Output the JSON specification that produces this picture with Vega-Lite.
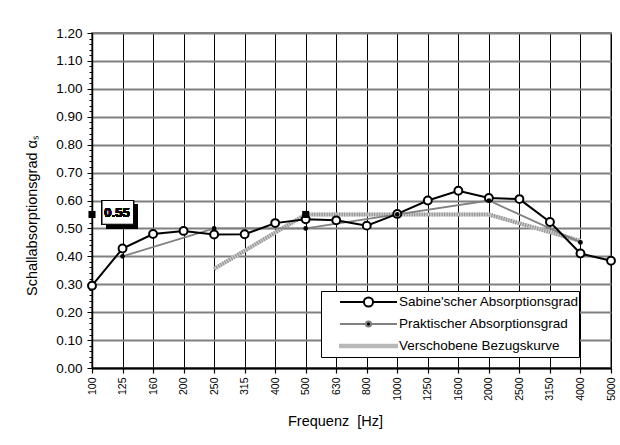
{
  "$schema": "https://vega.github.io/schema/vega-lite/v6.json",
  "autosize": {"type": "none"},
  "padding": {"left": 92, "top": 33, "right": 9, "bottom": 77},
  "width": 519,
  "height": 335,
  "background": "white",
  "config": {
    "font": "Liberation Sans",
    "view": {"stroke": "#808080", "strokeWidth": 2},
    "axis": {"labelFont": "Liberation Sans", "titleFont": "Liberation Sans", "labelColor": "black", "titleColor": "black", "titleFontWeight": "normal"}
  },
  "datasets": {
    "d": [
      {"f": "100", "s": "Sabine'scher Absorptionsgrad", "v": 0.295},
      {"f": "125", "s": "Sabine'scher Absorptionsgrad", "v": 0.428},
      {"f": "160", "s": "Sabine'scher Absorptionsgrad", "v": 0.48},
      {"f": "200", "s": "Sabine'scher Absorptionsgrad", "v": 0.491},
      {"f": "250", "s": "Sabine'scher Absorptionsgrad", "v": 0.478},
      {"f": "315", "s": "Sabine'scher Absorptionsgrad", "v": 0.479},
      {"f": "400", "s": "Sabine'scher Absorptionsgrad", "v": 0.519},
      {"f": "500", "s": "Sabine'scher Absorptionsgrad", "v": 0.533},
      {"f": "630", "s": "Sabine'scher Absorptionsgrad", "v": 0.529},
      {"f": "800", "s": "Sabine'scher Absorptionsgrad", "v": 0.51},
      {"f": "1000", "s": "Sabine'scher Absorptionsgrad", "v": 0.552},
      {"f": "1250", "s": "Sabine'scher Absorptionsgrad", "v": 0.60},
      {"f": "1600", "s": "Sabine'scher Absorptionsgrad", "v": 0.635},
      {"f": "2000", "s": "Sabine'scher Absorptionsgrad", "v": 0.609},
      {"f": "2500", "s": "Sabine'scher Absorptionsgrad", "v": 0.605},
      {"f": "3150", "s": "Sabine'scher Absorptionsgrad", "v": 0.523},
      {"f": "4000", "s": "Sabine'scher Absorptionsgrad", "v": 0.41},
      {"f": "5000", "s": "Sabine'scher Absorptionsgrad", "v": 0.384},
      {"f": "125", "s": "Praktischer Absorptionsgrad", "v": 0.40},
      {"f": "250", "s": "Praktischer Absorptionsgrad", "v": 0.50},
      {"f": "500", "s": "Praktischer Absorptionsgrad", "v": 0.50},
      {"f": "1000", "s": "Praktischer Absorptionsgrad", "v": 0.55},
      {"f": "2000", "s": "Praktischer Absorptionsgrad", "v": 0.60},
      {"f": "4000", "s": "Praktischer Absorptionsgrad", "v": 0.45},
      {"f": "250", "s": "Verschobene Bezugskurve", "v": 0.355},
      {"f": "500", "s": "Verschobene Bezugskurve", "v": 0.55},
      {"f": "1000", "s": "Verschobene Bezugskurve", "v": 0.55},
      {"f": "2000", "s": "Verschobene Bezugskurve", "v": 0.55},
      {"f": "4000", "s": "Verschobene Bezugskurve", "v": 0.455},
      {"f": "100", "s": "Markierung", "v": 0.55},
      {"f": "500", "s": "Markierung", "v": 0.55}
    ]
  },
  "data": {"name": "d"},
  "resolve": {"axis": {"y": "independent", "x": "independent"}},
  "layer": [
    {
      "transform": [{"filter": "datum.s === 'Verschobene Bezugskurve'"}],
      "mark": {"type": "line", "stroke": "#cacaca", "strokeWidth": 4},
      "encoding": {
        "x": {"field": "f", "type": "ordinal", "axis": null},
        "y": {"field": "v", "type": "quantitative", "axis": null}
      }
    },
    {
      "transform": [{"filter": "datum.s === 'Verschobene Bezugskurve'"}],
      "mark": {"type": "line", "stroke": "#8e8e8e", "strokeWidth": 4, "strokeDash": [1, 1.5]},
      "encoding": {
        "x": {"field": "f", "type": "ordinal", "axis": null},
        "y": {"field": "v", "type": "quantitative", "axis": null}
      }
    },
    {
      "transform": [{"filter": "datum.s === 'Praktischer Absorptionsgrad'"}],
      "mark": {"type": "line", "stroke": "#808080", "strokeWidth": 1.8},
      "encoding": {
        "x": {"field": "f", "type": "ordinal", "axis": null},
        "y": {"field": "v", "type": "quantitative", "axis": null}
      }
    },
    {
      "transform": [{"filter": "datum.s === \"Sabine'scher Absorptionsgrad\""}],
      "mark": {"type": "line", "stroke": "black", "strokeWidth": 2},
      "encoding": {
        "x": {
          "field": "f", "type": "ordinal",
          "scale": {"type": "point", "padding": 0, "domain": ["100","125","160","200","250","315","400","500","630","800","1000","1250","1600","2000","2500","3150","4000","5000"]},
          "axis": {
            "orient": "bottom",
            "title": "Frequenz\u00a0 [Hz]", "titleFontSize": 14.5, "titleX": 243, "titleY": 53, "titleBaseline": "middle", "titleAnchor": "start", "titleAlign": "center",
            "labelAngle": -90, "labelFontSize": 10.5, "labelPadding": 4,
            "grid": true, "gridColor": "black", "gridWidth": 1,
            "domainColor": "black", "domainWidth": 2,
            "tickColor": "black", "tickSize": 5, "tickWidth": 1.2
          }
        },
        "y": {
          "field": "v", "type": "quantitative",
          "scale": {"domain": [0, 1.2], "nice": false, "zero": true},
          "axis": {
            "orient": "left",
            "title": "Schallabsorptionsgrad αₛ", "titleFontSize": 14.5, "titleX": -60, "titleY": 182, "titleAlign": "center", "titleBaseline": "middle", "titleAnchor": "start",
            "values": [0, 0.1, 0.2, 0.3, 0.4, 0.5, 0.6, 0.7, 0.8, 0.9, 1.0, 1.1, 1.2],
            "format": ".2f", "labelFontSize": 13.5, "labelPadding": 5,
            "grid": true, "gridColor": "#808080", "gridWidth": 2,
            "domainColor": "black", "domainWidth": 1.5,
            "tickColor": "black", "tickSize": 5, "tickWidth": 1
          }
        }
      }
    },
    {
      "transform": [{"filter": "datum.s === \"Sabine'scher Absorptionsgrad\""}],
      "mark": {"type": "point", "shape": "circle", "filled": true, "fill": "white", "stroke": "black", "strokeWidth": 2, "size": 62, "opacity": 1},
      "encoding": {
        "x": {"field": "f", "type": "ordinal", "axis": null},
        "y": {"field": "v", "type": "quantitative", "axis": null}
      }
    },
    {
      "transform": [{"filter": "datum.s === 'Praktischer Absorptionsgrad'"}],
      "mark": {"type": "point", "shape": "circle", "filled": true, "fill": "black", "strokeWidth": 0, "size": 22, "opacity": 1},
      "encoding": {
        "x": {"field": "f", "type": "ordinal", "axis": null},
        "y": {"field": "v", "type": "quantitative", "axis": null}
      }
    },
    {
      "transform": [{"filter": "datum.s === 'Markierung'"}],
      "mark": {"type": "point", "shape": "square", "filled": true, "fill": "black", "strokeWidth": 0, "size": 50, "opacity": 1},
      "encoding": {
        "x": {"field": "f", "type": "ordinal", "axis": null},
        "y": {"field": "v", "type": "quantitative", "axis": null}
      }
    },
    {
      "mark": {"type": "rect", "fill": "black", "xOffset": 14, "x2Offset": 15, "yOffset": 4, "y2Offset": 4},
      "encoding": {
        "x": {"datum": "100", "type": "ordinal", "axis": null},
        "x2": {"datum": "125"},
        "y": {"datum": 0.60, "type": "quantitative", "axis": null},
        "y2": {"datum": 0.515}
      }
    },
    {
      "mark": {"type": "rect", "fill": "white", "stroke": "black", "strokeWidth": 1, "xOffset": 10, "x2Offset": 11},
      "encoding": {
        "x": {"datum": "100", "type": "ordinal", "axis": null},
        "x2": {"datum": "125"},
        "y": {"datum": 0.60, "type": "quantitative", "axis": null},
        "y2": {"datum": 0.515}
      }
    },
    {
      "mark": {"type": "text", "text": "0.55", "font": "Liberation Sans", "fontSize": 13, "fontWeight": "bold", "dx": 25, "align": "center", "baseline": "middle", "fill": "black"},
      "encoding": {
        "x": {"datum": "100", "type": "ordinal", "axis": null},
        "y": {"datum": 0.557, "type": "quantitative", "axis": null}
      }
    },
    {
      "transform": [{"filter": "false"}],
      "mark": {"type": "point", "filled": true, "opacity": 1, "strokeWidth": 2},
      "encoding": {
        "x": {"field": "f", "type": "ordinal", "axis": null},
        "y": {
          "field": "v", "type": "quantitative",
          "axis": {
            "orient": "left", "title": null, "labels": false, "grid": false, "domain": false,
            "tickColor": "black", "tickSize": 3, "tickWidth": 1,
            "values": [0.02,0.04,0.06,0.08,0.12,0.14,0.16,0.18,0.22,0.24,0.26,0.28,0.32,0.34,0.36,0.38,0.42,0.44,0.46,0.48,0.52,0.54,0.56,0.58,0.62,0.64,0.66,0.68,0.72,0.74,0.76,0.78,0.82,0.84,0.86,0.88,0.92,0.94,0.96,0.98,1.02,1.04,1.06,1.08,1.12,1.14,1.16,1.18]
          }
        },
        "stroke": {
          "field": "s", "type": "nominal",
          "scale": {"domain": ["Sabine'scher Absorptionsgrad", "Praktischer Absorptionsgrad", "Verschobene Bezugskurve"], "range": ["black", "#808080", "#b8b8b8"]},
          "legend": {
            "orient": "none", "legendX": 229, "legendY": 258, "padding": 0, "title": null,
            "clipHeight": 22, "rowPadding": 0, "symbolSize": 3249, "symbolStrokeWidth": 2,
            "symbolOffset": 18, "labelOffset": 1, "labelLimit": 400,
            "labelFont": "Liberation Sans", "labelFontSize": 13.5, "labelColor": "black",
            "labelExpr": "datum.label + '     '",
            "fillColor": "white", "strokeColor": "black"
          }
        },
        "fill": {
          "field": "s", "type": "nominal",
          "scale": {"domain": ["Sabine'scher Absorptionsgrad", "Praktischer Absorptionsgrad", "Verschobene Bezugskurve"], "range": ["white", "black", "#b8b8b8"]}
        },
        "shape": {
          "field": "s", "type": "nominal",
          "scale": {"domain": ["Sabine'scher Absorptionsgrad", "Praktischer Absorptionsgrad", "Verschobene Bezugskurve"],
            "range": [
              "M-1,0H-0.16M0.16,0H1M-0.16,0A0.16,0.16,0,1,0,0.16,0A0.16,0.16,0,1,0,-0.16,0Z",
              "M-1,0H-0.09M0.09,0H1M-0.09,0A0.09,0.09,0,1,0,0.09,0A0.09,0.09,0,1,0,-0.09,0Z",
              "M-1,-0.04H1V0.04H-1Z"
            ]}
        }
      }
    }
  ]
}
